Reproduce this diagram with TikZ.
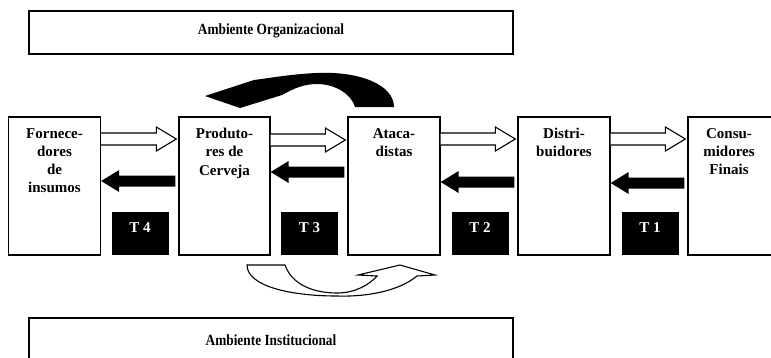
\documentclass[tikz,border=0pt]{standalone}
\usepackage{fontspec}
\setmainfont{Liberation Serif}
\newfontfamily\narrowserif[FakeStretch=0.86]{Liberation Serif}
\usetikzlibrary{calc}

% outlined (goods) arrow from #1 to tip #2, pointing right
\newcommand\goodsarrow[2]{%
  \draw[hollowflow] ($(#1)+(0,-6)$) -- ($(#2)+(-20,-6)$) -- ($(#2)+(-20,-12)$)
    -- (#2) -- ($(#2)+(-20,12)$) -- ($(#2)+(-20,6)$) -- ($(#1)+(0,6)$);}
% filled (payment) arrow from tail #1 to tip #2, pointing left
\newcommand\moneyarrow[2]{%
  \fill ($(#1)+(0,-5.5)$) -- ($(#2)+(18,-5.5)$) -- ($(#2)+(18,-11)$)
    -- (#2) -- ($(#2)+(18,11)$) -- ($(#2)+(18,5.5)$) -- ($(#1)+(0,5.5)$) -- cycle;}

\begin{document}
\begin{tikzpicture}[x=1pt,y=-1pt,
  stage/.style={draw, line width=1.3pt, minimum width=92pt, minimum height=138pt, inner sep=0pt},
  stagetext/.style={anchor=north, align=center, inner sep=0pt,
    font=\bfseries\fontsize{15}{18.3}\selectfont},
  env/.style={draw, line width=1.3pt, minimum width=484pt, minimum height=43pt, inner sep=0pt},
  envtext/.style={inner sep=0pt, font=\narrowserif\bfseries\fontsize{15.5}{17}\selectfont},
  tbox/.style={fill=black, minimum width=57pt, minimum height=43pt, inner sep=0pt},
  tlabel/.style={text=white, inner sep=0pt, font=\bfseries\fontsize{15}{17}\selectfont},
  hollowflow/.style={draw, fill=white, line width=1.1pt, line join=miter},
]
\clip (0,0) rectangle (771,357);
\fill[white] (0,0) rectangle (771,357);

% environments
\node[env] (org) at (271,32.5) {};
\node[envtext] (orgtext) at (271,31) {Ambiente Organizacional};
\node[env, minimum height=70pt] (inst) at (271,353) {};
\node[envtext] (insttext) at (271,340) {Ambiente Institucional};

% chain stages
\node[stage] (b1) at (54.5,186) {};
\node[stage, minimum width=91pt] (b2) at (224.5,186) {};
\node[stage] (b3) at (394,186) {};
\node[stage] (b4) at (564,186) {};
\node[stage] (b5) at (734,186) {};

\node[stagetext] (s1) at (54.5,128) {Fornece-\\dores\\de\\insumos};
\node[stagetext] (s2) at (224.5,128) {Produto-\\res de\\Cerveja};
\node[stagetext] (s3) at (394,128) {Ataca-\\distas};
\node[stagetext] (s4) at (564,128) {Distri-\\buidores};
\node[stagetext] (s5) at (729,128) {Consu-\\midores\\Finais};

% transactions
\node[tbox] (tb4) at (140,233.5) {};
\node[tbox] (tb3) at (309.5,233.5) {};
\node[tbox] (tb2) at (480,233.5) {};
\node[tbox] (tb1) at (650,233.5) {};
\node[tlabel] (tl4) at (tb4.center |- 0,228) {T 4};
\node[tlabel] (tl3) at (tb3.center |- 0,228) {T 3};
\node[tlabel] (tl2) at (tb2.center |- 0,228) {T 2};
\node[tlabel] (tl1) at (tb1.center |- 0,228) {T 1};

% goods flow (forward)
\coordinate (g1a) at (b1.east |- 0,139);
\coordinate (g1b) at ($(b2.west |- 0,139)+(-2,0)$);
\coordinate (g2a) at (b2.east |- 0,140);
\coordinate (g2b) at ($(b3.west |- 0,140)+(-2,0)$);
\coordinate (g3a) at (b3.east |- 0,139);
\coordinate (g3b) at ($(b4.west |- 0,139)+(-2,0)$);
\coordinate (g4a) at (b4.east |- 0,139);
\coordinate (g4b) at ($(b5.west |- 0,139)+(-2,0)$);
\goodsarrow{g1a}{g1b}
\goodsarrow{g2a}{g2b}
\goodsarrow{g3a}{g3b}
\goodsarrow{g4a}{g4b}

% payment flow (backward)
\coordinate (m1a) at ($(b2.west |- 0,181)+(-3,0)$);
\coordinate (m1b) at (b1.east |- 0,181);
\coordinate (m2a) at ($(b3.west |- 0,172)+(-3,0)$);
\coordinate (m2b) at (b2.east |- 0,172);
\coordinate (m3a) at ($(b4.west |- 0,182)+(-3,0)$);
\coordinate (m3b) at (b3.east |- 0,182);
\coordinate (m4a) at ($(b5.west |- 0,183)+(-3,0)$);
\coordinate (m4b) at (b4.east |- 0,183);
\moneyarrow{m1a}{m1b}
\moneyarrow{m2a}{m2b}
\moneyarrow{m3a}{m3b}
\moneyarrow{m4a}{m4b}

% curved arrow above, from wholesalers back to brewers
\fill (394,107) .. controls (394,85) and (360,71) .. (317,73)
  .. controls (292,74) and (270,78) .. (254,80)
  -- (205,96) -- (240,108) -- (282,95)
  .. controls (294,88) and (305,84) .. (317,84)
  .. controls (336,84) and (352,95) .. (355,107) -- cycle;

% curved outlined arrow below, from brewers to wholesalers
\draw[hollowflow] (247,265) -- (285,265)
  .. controls (292,285) and (314,293) .. (337,293)
  .. controls (355,293) and (369,285) .. (377,276)
  -- (358,275) -- (400,265) -- (435,275) -- (417,276)
  .. controls (400,290) and (370,297) .. (337,296)
  .. controls (290,296) and (247,286) .. (247,265) -- cycle;
\end{tikzpicture}
\end{document}
